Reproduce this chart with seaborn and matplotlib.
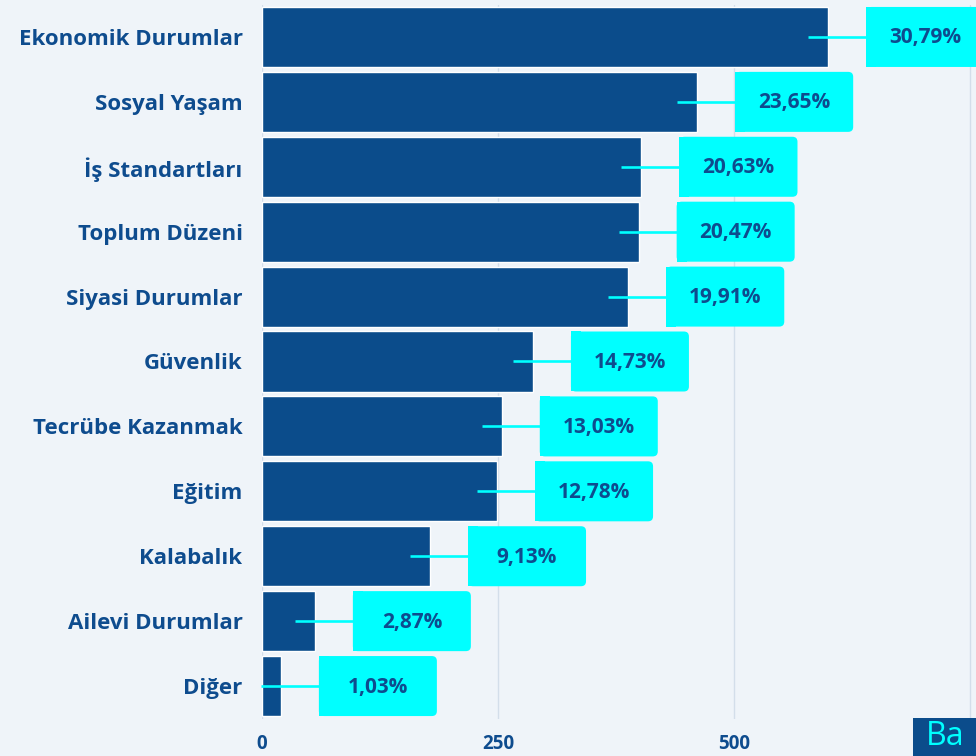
import matplotlib
matplotlib.use("Agg")
import matplotlib.pyplot as plt
from matplotlib.patches import FancyBboxPatch, Rectangle
from matplotlib.transforms import IdentityTransform
import seaborn as sns
import pandas as pd

categories = ["Ekonomik Durumlar", "Sosyal Yaşam", "İş Standartları", "Toplum Düzeni",
              "Siyasi Durumlar", "Güvenlik", "Tecrübe Kazanmak", "Eğitim",
              "Kalabalık", "Ailevi Durumlar", "Diğer"]
counts = [600, 461, 402, 399, 388, 287, 254, 249, 178, 56, 20]
percent_labels = ["30,79%", "23,65%", "20,63%", "20,47%", "19,91%", "14,73%",
                  "13,03%", "12,78%", "9,13%", "2,87%", "1,03%"]
x_ticks = [0, 250, 500, 750]
x_tick_labels = ["0", "250", "500", ""]

BAR = "#0B4C8B"
CYAN = "#00FFFF"
TEXT = "#0E4C8E"
BG = "#EFF4F9"
FONT = "Open Sans"

df = pd.DataFrame({"kategori": categories, "sayi": counts})

sns.set_theme(style="white")
plt.rcParams["font.family"] = [FONT, "DejaVu Sans"]

DPI = 100
fig = plt.figure(figsize=(9.76, 7.56), dpi=DPI, facecolor=BG)
W, H = 976, 756
ax = fig.add_axes([262 / W, (H - 718.5) / H, (W - 262) / W, (718.5 - 4.5) / H])
ax.set_facecolor("none")

sns.barplot(data=df, x="sayi", y="kategori", orient="h", color=BAR,
            saturation=1, width=0.925, ax=ax, zorder=3)

ax.set_xlim(0, (W - 262) / 0.944)
ax.set_ylim(10.5, -0.5)
ax.set_xticks(x_ticks)
ax.set_xticklabels(x_tick_labels)
ax.grid(axis="x", color="#D3DEEA", linewidth=1, zorder=0)
ax.grid(axis="y", visible=False)
for s in ax.spines.values():
    s.set_visible(False)
ax.tick_params(axis="both", length=0)
ax.tick_params(axis="y", pad=14)
ax.tick_params(axis="x", pad=11)
ax.set_xlabel("")
ax.set_ylabel("")
for lab in ax.get_yticklabels():
    lab.set_fontsize(16)
    lab.set_fontweight("bold")
    lab.set_color(TEXT)
for lab in ax.get_xticklabels():
    lab.set_fontsize(13.5)
    lab.set_fontweight("bold")
    lab.set_color(TEXT)

# value boxes: connector line from inside the bar to a cyan tag
fig.canvas.draw()
to_px = ax.transData
bar_h_px = 60
for i, (v, lab) in enumerate(zip(counts, percent_labels)):
    x_end, y_c = to_px.transform((v, i))
    box_l = x_end + 38
    box_w = 118
    y0 = y_c - bar_h_px / 2
    tag = FancyBboxPatch((box_l, y0), box_w, bar_h_px,
                         boxstyle="round,pad=0,rounding_size=5",
                         transform=IdentityTransform(), facecolor=CYAN,
                         edgecolor="none", zorder=5)
    ax.add_artist(tag)
    ax.add_artist(Rectangle((box_l, y0), 10, bar_h_px, transform=IdentityTransform(),
                            facecolor=CYAN, edgecolor="none", zorder=5))
    ax.plot([x_end - 20, box_l], [y_c, y_c], transform=IdentityTransform(),
            color=CYAN, linewidth=1.9, solid_capstyle="butt", zorder=6,
            clip_on=False)
    ax.text(box_l + box_w / 2, y_c - 1, lab, transform=IdentityTransform(),
            ha="center", va="center", fontsize=15, fontweight="bold",
            color=TEXT, zorder=7, clip_on=False)

# corner badge
fig.add_artist(Rectangle((913 / W, 0), (W - 913) / W, 38 / H, transform=fig.transFigure,
                         facecolor=BAR, edgecolor="none", zorder=20))
fig.text(926 / W, 3 / H, "Ba", color=CYAN, fontsize=23, fontweight="normal",
         ha="left", va="bottom", zorder=21)

fig.savefig("out.png", dpi=DPI, facecolor=BG)
